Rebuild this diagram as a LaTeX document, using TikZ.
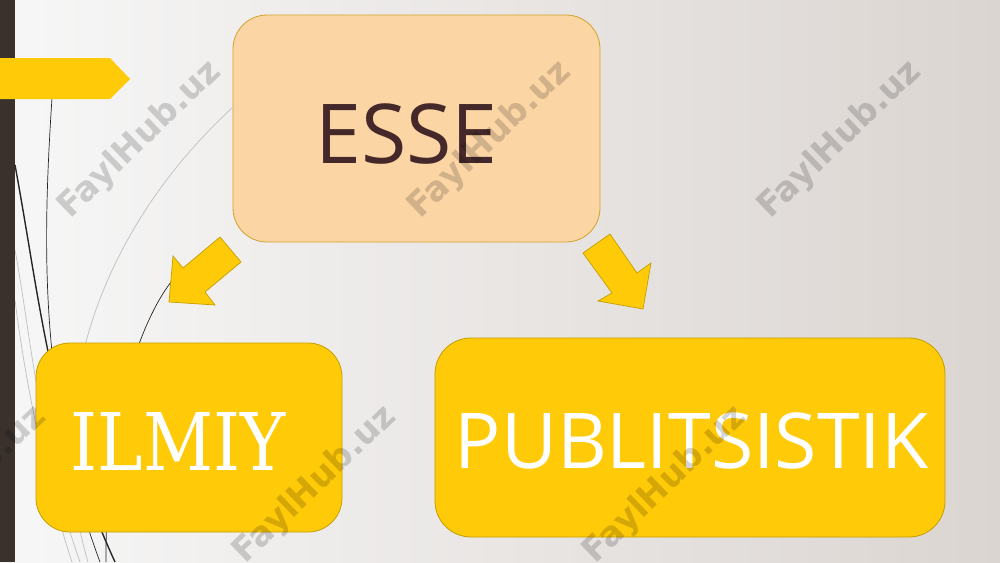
\documentclass[tikz,border=0pt]{standalone}
\usepackage{fontspec}
\newfontfamily\osans{Open Sans}
\newfontfamily\dserif{DejaVu Serif}
\newfontfamily\wmfont{DejaVu Sans}
\definecolor{bgL}{HTML}{F7F7F7}
\definecolor{bgM}{HTML}{EDEBE9}
\definecolor{bgR}{HTML}{DBD5D1}
\definecolor{barc}{HTML}{3A312C}
\definecolor{gold}{HTML}{FFCA08}
\definecolor{goldedge}{HTML}{C49E00}
\definecolor{peach}{HTML}{FCD5A5}
\definecolor{peachedge}{HTML}{D0A22A}
\definecolor{brownt}{HTML}{45292A}
\begin{document}
\begin{tikzpicture}[x=1pt,y=-1pt,
  box/.style={draw=goldedge, line width=0.8pt, fill=gold, rounded corners=34pt, inner sep=0pt},
  blockarrow/.style={draw=goldedge, line width=0.7pt, fill=gold, line join=miter},
  wisp/.style={draw=black!85, line width=0.7pt},
  wispthick/.style={draw=black!85, line width=1.4pt},
  wispgray/.style={draw=black!25, line width=0.7pt},
  wm/.style={text=black, opacity=0.17, font=\wmfont\bfseries\fontsize{34}{40}\selectfont, rotate=44, inner sep=0pt},
  lbl/.style={anchor=base, inner sep=0pt}]
\useasboundingbox (0,0) rectangle (1000,562);
\clip (0,0) rectangle (1000,562);
% background
\shade[left color=bgL, middle color=bgM, right color=bgR] (0,0) rectangle (1000,562);
% wisp lines
\draw[wispgray] (15,250) .. controls (30,330) and (40,450) .. (80,562);
\draw[wispgray] (15,300) .. controls (25,380) and (45,480) .. (72,562);
\draw[wispgray] (232,108) .. controls (100,230) and (40,400) .. (88,562);
\draw[wisp] (52,98) .. controls (42,250) and (40,400) .. (100,562);
\draw[wispthick] (15,165) .. controls (40,300) and (50,420) .. (115,562);
\draw[wisp] (180,272) .. controls (150,300) and (105,400) .. (106,562);
% left dark bar and tab
\fill[barc] (0,0) rectangle (15,562);
\fill[gold] (0,58) -- (110,58) -- (130,79) -- (110,99) -- (0,99) -- cycle;
% boxes
\node[box, fill=peach, draw=peachedge, minimum width=367pt, minimum height=227pt] (esse) at (416.5,128.5) {};
\node[box, minimum width=306pt, minimum height=189pt] (ilmiy) at (189,437.5) {};
\node[box, rounded corners=36pt, minimum width=510pt, minimum height=199pt] (publ) at (690,437.5) {};
% labels
\node[lbl, text=brownt, font=\osans\fontsize{82.6}{90}\selectfont] (esset) at (406.5,163) {ESSE};
\node[lbl, text=white, font=\dserif\fontsize{79.6}{90}\selectfont] (ilmiyt) at (178,470) {\scalebox{0.86}[1]{ILMIY}};
\node[lbl, text=white, font=\osans\fontsize{77}{85}\selectfont] (publt) at (691.5,468) {PUBLITSISTIK};
% block arrows
\draw[blockarrow] (220,237) -- (241,262) -- (205,292) -- (215,305) -- (169,302) -- (173,256) -- (183,268) -- cycle;
\draw[blockarrow] (610,234) -- (637,273) -- (651,263) -- (643,309) -- (598,301) -- (612,293) -- (583,253) -- cycle;
% watermarks
\node[wm] (wm1) at (140,140) {FaylHub.uz};
\node[wm] (wm2) at (490,140) {FaylHub.uz};
\node[wm] (wm3) at (840,140) {FaylHub.uz};
\node[wm] (wm4) at (-35,485) {FaylHub.uz};
\node[wm] (wm5) at (315,485) {FaylHub.uz};
\node[wm] (wm6) at (665,485) {FaylHub.uz};
\end{tikzpicture}
\end{document}
